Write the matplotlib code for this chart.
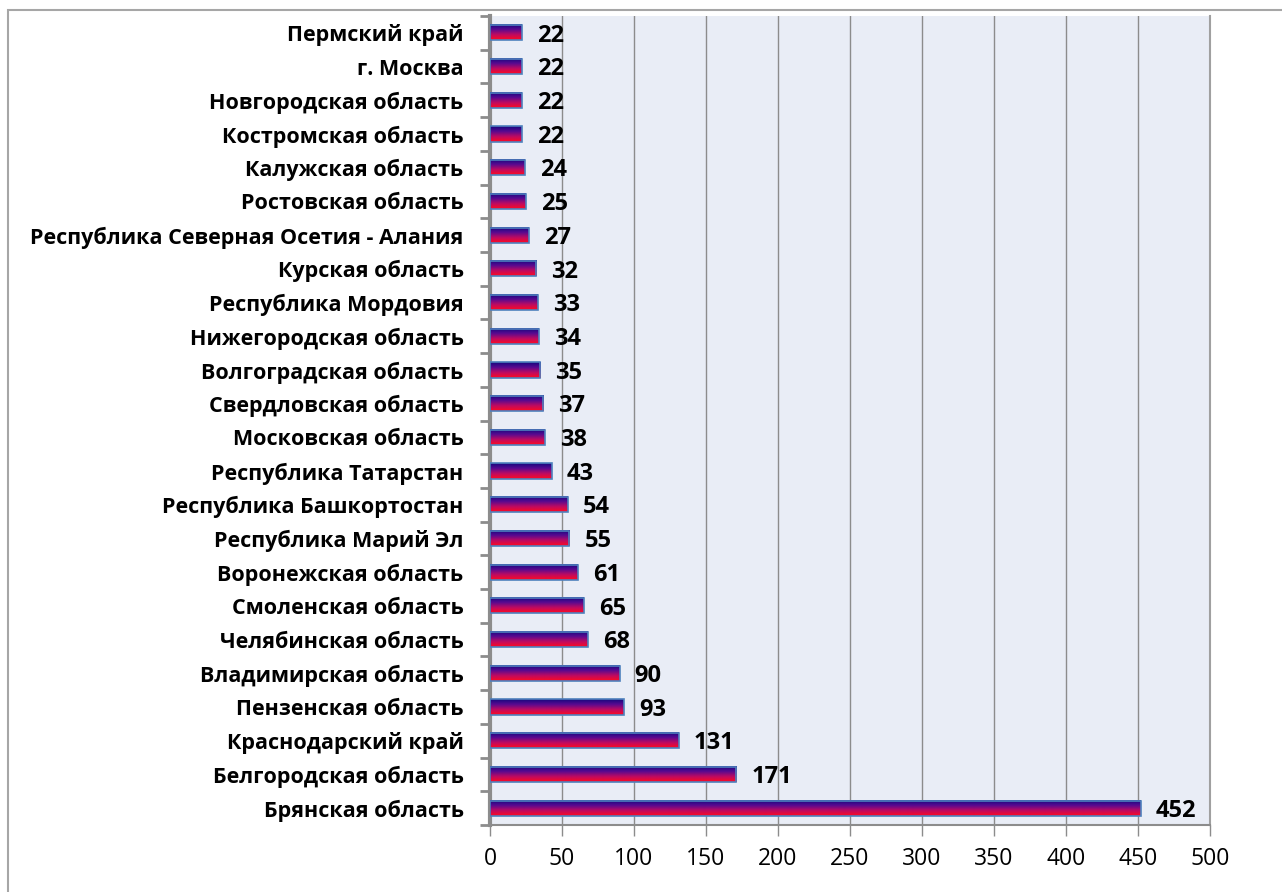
import numpy as np
import matplotlib.pyplot as plt
from matplotlib.colors import LinearSegmentedColormap
from matplotlib.patches import Rectangle

plt.rcParams['font.family'] = ['Open Sans', 'DejaVu Sans']

regions = ["Брянская область", "Белгородская область", "Краснодарский край",
           "Пензенская область", "Владимирская область", "Челябинская область",
           "Смоленская область", "Воронежская область", "Республика Марий Эл",
           "Республика Башкортостан", "Республика Татарстан", "Московская область",
           "Свердловская область", "Волгоградская область", "Нижегородская область",
           "Республика Мордовия", "Курская область", "Республика Северная Осетия - Алания",
           "Ростовская область", "Калужская область", "Костромская область",
           "Новгородская область", "г. Москва", "Пермский край"]
values = [452, 171, 131, 93, 90, 68, 65, 61, 55, 54, 43, 38, 37, 35, 34, 33, 32, 27,
          25, 24, 22, 22, 22, 22]
xticks = [0, 50, 100, 150, 200, 250, 300, 350, 400, 450, 500]

fig = plt.figure(figsize=(12.82, 8.92), dpi=100)
# outer chart frame
fig.add_artist(Rectangle((8 / 1282, -0.01), 1.02, 1 - 10 / 892 + 0.01, transform=fig.transFigure,
                         fill=False, edgecolor="#a6a6a6", linewidth=1.5))
ax = fig.add_axes([490 / 1282, 1 - 825 / 892, 720 / 1282, 809 / 892])
ax.set_facecolor("#e9edf6")

cmap = LinearSegmentedColormap.from_list("bar", ["#ff0a20", "#c00a60", "#5a0a90", "#14087e"])
grad = np.linspace(0, 1, 64).reshape(-1, 1)
h = 0.45
y = np.arange(len(regions))
for yi, v in zip(y, values):
    ax.imshow(grad, extent=[0, v, yi - h / 2, yi + h / 2], origin="lower",
              cmap=cmap, aspect="auto", zorder=3)
    ax.add_patch(Rectangle((0, yi - h / 2), v, h, fill=False,
                           edgecolor="#4f81bd", linewidth=1.2, zorder=4))
    ax.text(v + 10.5, yi - 0.08, str(v), va="center", ha="left",
            fontsize=17, fontweight="bold", zorder=5)

ax.set_xlim(0, 500)
ax.set_ylim(-0.5, len(regions) - 0.5)
ax.set_xticks(xticks)
ax.set_xticklabels([str(t) for t in xticks], fontsize=16.5)
ax.set_yticks(y)
ax.set_yticklabels(regions, fontsize=15.5, fontweight="bold")
ax.set_yticks(np.arange(-0.5, len(regions)), minor=True)
ax.tick_params(axis="y", which="major", length=0, pad=19)
ax.tick_params(axis="y", which="minor", length=7, width=2, color="#8c8c8c")
ax.tick_params(axis="x", length=8, width=1, color="#8c8c8c", pad=8)
ax.grid(axis="x", color="#8c8c8c", linewidth=1, zorder=1)
ax.set_axisbelow(True)
ax.spines["top"].set_visible(False)
ax.spines["left"].set_color("#8c8c8c")
ax.spines["left"].set_linewidth(3)
ax.spines["bottom"].set_color("#8c8c8c")
ax.spines["bottom"].set_linewidth(1.5)
ax.spines["right"].set_color("#a0a0a0")
ax.spines["right"].set_linewidth(1.5)

fig.savefig("out.png", dpi=100)
